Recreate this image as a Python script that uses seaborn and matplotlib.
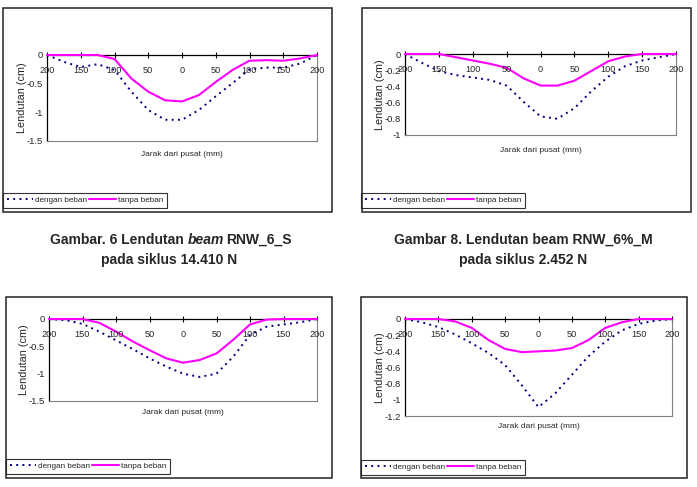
import matplotlib
matplotlib.use("Agg")
import matplotlib.pyplot as plt
from matplotlib.patches import Rectangle
import seaborn as sns

# jarak dari pusat balok (mm), sisi kiri ditulis negatif
jarak = [-200, -175, -150, -125, -100, -75, -50, -25, 0, 25, 50, 75, 100, 125, 150, 175, 200]
x_ticks = [-200, -150, -100, -50, 0, 50, 100, 150, 200]
x_labels = ["200", "150", "100", "50", "0", "50", "100", "150", "200"]

# Gambar 6 - RNW_6_S, siklus 14.410 N
g6_dengan = [0, -0.12, -0.21, -0.16, -0.26, -0.64, -0.96, -1.13, -1.13, -0.96, -0.72, -0.49, -0.25, -0.22, -0.22, -0.15, 0]
g6_tanpa = [0, 0, 0, 0, -0.07, -0.41, -0.64, -0.79, -0.81, -0.70, -0.47, -0.26, -0.10, -0.09, -0.10, -0.06, 0]
g6_yticks = [0, -0.5, -1, -1.5]
g6_ylabels = ["0", "-0.5", "-1", "-1.5"]

# Gambar 8 - RNW_6%_M, siklus 2.452 N
g8_dengan = [0, -0.11, -0.21, -0.26, -0.29, -0.32, -0.39, -0.59, -0.77, -0.80, -0.67, -0.46, -0.28, -0.15, -0.08, -0.04, 0]
g8_tanpa = [0, 0, 0, -0.04, -0.08, -0.12, -0.17, -0.30, -0.39, -0.39, -0.33, -0.21, -0.09, -0.03, 0, 0, 0]
g8_yticks = [0, -0.2, -0.4, -0.6, -0.8, -1]
g8_ylabels = ["0", "-0.2", "-0.4", "-0.6", "-0.8", "-1"]

# grafik bawah kiri
bl_dengan = [0, -0.02, -0.09, -0.23, -0.39, -0.55, -0.72, -0.87, -1.00, -1.06, -1.00, -0.69, -0.29, -0.14, -0.10, -0.06, 0]
bl_tanpa = [0, 0, 0, -0.07, -0.23, -0.41, -0.57, -0.72, -0.80, -0.75, -0.63, -0.38, -0.10, -0.01, 0, 0, 0]
bl_yticks = [0, -0.5, -1, -1.5]
bl_ylabels = ["0", "-0.5", "-1", "-1.5"]

# grafik bawah kanan
br_dengan = [0, -0.04, -0.10, -0.19, -0.30, -0.42, -0.57, -0.82, -1.09, -0.92, -0.69, -0.46, -0.28, -0.14, -0.06, -0.02, 0]
br_tanpa = [0, 0, 0, -0.03, -0.11, -0.26, -0.37, -0.41, -0.40, -0.39, -0.36, -0.26, -0.11, -0.04, 0, 0, 0]
br_yticks = [0, -0.2, -0.4, -0.6, -0.8, -1, -1.2]
br_ylabels = ["0", "-0.2", "-0.4", "-0.6", "-0.8", "-1", "-1.2"]

NAVY = "#000080"
MAGENTA = "#FF00FF"
FONT = ["Liberation Sans", "DejaVu Sans"]

sns.set_style("white")
plt.rcParams["font.family"] = FONT
plt.rcParams["axes.unicode_minus"] = False

W, H = 697, 487
fig = plt.figure(figsize=(W / 100, H / 100), dpi=100)


def px_rect(l, t, r, b):
    # pixel box (top-left origin) -> figure fraction
    return [l / W, 1 - b / H, (r - l) / W, (b - t) / H]


def draw_panel(box, area, dengan, tanpa, yticks, ylabels, leg_xy, xlab_dy):
    bx = px_rect(*box)
    fig.add_artist(Rectangle((bx[0], bx[1]), bx[2], bx[3], transform=fig.transFigure,
                             fill=False, edgecolor="#222222", linewidth=1.1))

    ax = fig.add_axes(px_rect(*area))
    sns.lineplot(x=jarak, y=dengan, ax=ax, color=NAVY, linewidth=1.4,
                 linestyle=(0, (1, 2.2)), label="dengan beban", clip_on=False, zorder=3)
    sns.lineplot(x=jarak, y=tanpa, ax=ax, color=MAGENTA, linewidth=1.5,
                 label="tanpa beban", clip_on=False, zorder=4)

    ax.set_xlim(-200, 200)
    ax.set_ylim(yticks[-1], 0)

    # x axis sits at y = 0 (top), labels hang just under it
    ax.set_xticks(x_ticks)
    ax.tick_params(axis="x", bottom=False, top=True, labelbottom=False, labeltop=False,
                   direction="inout", length=5, width=0.8, color="black")
    for xv, lab in zip(x_ticks, x_labels):
        ax.annotate(lab, xy=(xv, 1), xycoords=("data", "axes fraction"), xytext=(0, -11.5),
                    textcoords="offset points", ha="center", va="center", fontsize=6.6, zorder=5)

    ax.set_yticks(yticks)
    ax.set_yticklabels(ylabels)
    ax.tick_params(axis="y", direction="inout", length=4, width=0.8, pad=1,
                   labelsize=6.8, color="black")

    for s in ["left", "top"]:
        ax.spines[s].set_color("black")
        ax.spines[s].set_linewidth(0.9)
    for s in ["right", "bottom"]:
        ax.spines[s].set_color("#808080")
        ax.spines[s].set_linewidth(0.8)

    width = area[2] - area[0]
    height = area[3] - area[1]
    ax.set_ylabel("Lendutan (cm)", fontsize=7.8)
    ax.yaxis.set_label_coords(-25 / width, 0.5)
    ax.yaxis.label.set_va("center")
    ax.set_xlabel("Jarak dari pusat (mm)", fontsize=6.0)
    ax.xaxis.set_label_coords(0.5, -xlab_dy / height)
    ax.xaxis.label.set_va("center")

    leg = ax.legend(loc="lower left", bbox_to_anchor=(leg_xy[0] / W, 1 - leg_xy[1] / H),
                    bbox_transform=fig.transFigure, ncol=2, frameon=True, fancybox=False,
                    edgecolor="#333333", framealpha=1, fontsize=5.9, borderpad=0.45,
                    borderaxespad=0, handlelength=3.2, handletextpad=0.25, columnspacing=0.3)
    leg.get_frame().set_linewidth(0.8)
    return ax


draw_panel((3, 8, 332, 212), (47, 55, 317, 141), g6_dengan, g6_tanpa,
           g6_yticks, g6_ylabels, (3, 208), 14)
draw_panel((362, 8, 691, 212), (405, 54, 676, 135), g8_dengan, g8_tanpa,
           g8_yticks, g8_ylabels, (361, 208), 15)
draw_panel((6, 297, 332, 478), (49, 319, 317, 401), bl_dengan, bl_tanpa,
           bl_yticks, bl_ylabels, (6, 474), 12)
draw_panel((361, 297, 687, 478), (405, 319, 672, 416), br_dengan, br_tanpa,
           br_yticks, br_ylabels, (361, 475), 11)

# captions
cap = fig.add_axes([0, 0, 1, 1])
cap.axis("off")
cap.set_xlim(0, W)
cap.set_ylim(H, 0)
bold = dict(fontsize=10, fontweight="bold")
t1 = cap.text(50, 240, "Gambar. 6 Lendutan", va="center", ha="left", **bold)
t2 = cap.annotate("beam", xy=(1, 0), xycoords=t1, xytext=(2.6, 0), textcoords="offset points",
                  va="bottom", ha="left", fontstyle="italic", **bold)
cap.annotate("RNW_6_S", xy=(1, 0), xycoords=t2, xytext=(1.4, 0), textcoords="offset points",
             va="bottom", ha="left", **bold)
cap.text(169, 260, "pada siklus 14.410 N", va="center", ha="center", **bold)
cap.text(523, 240, "Gambar 8. Lendutan beam RNW_6%_M", va="center", ha="center", **bold)
cap.text(523, 260, "pada siklus 2.452 N", va="center", ha="center", **bold)

fig.savefig("out.png", dpi=100)
